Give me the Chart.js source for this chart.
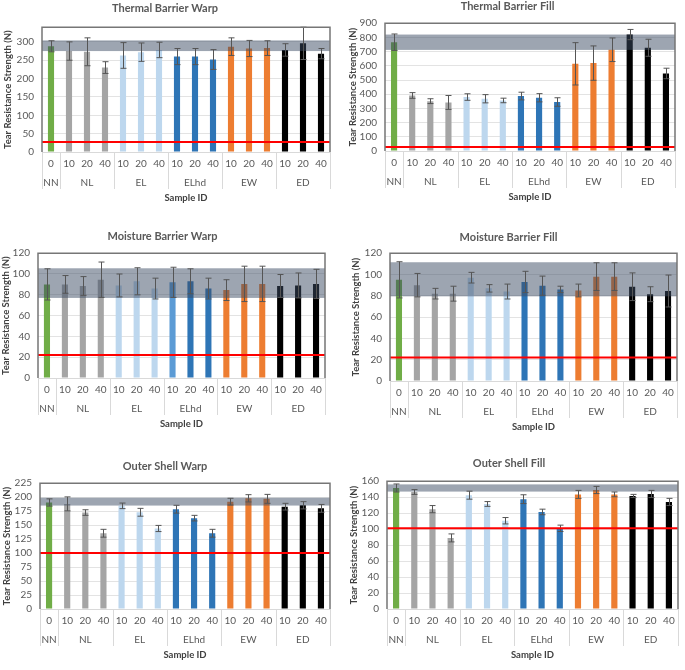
<!DOCTYPE html>
<html>
<head>
<meta charset="utf-8">
<script src="https://cdn.jsdelivr.net/npm/chart.js@4.4.1/dist/chart.umd.min.js"></script>
<style>
    body { margin: 0; background: #fff; }
    #page { position: relative; width: 685px; height: 670px; }
    .panel { position: absolute; }
</style>
</head>
<body>
<div id="page">
    <div class="panel" style="left:0;top:0"><canvas id="tbWarp" width="340" height="210"></canvas></div>
    <div class="panel" style="left:340px;top:0"><canvas id="tbFill" width="345" height="210"></canvas></div>
    <div class="panel" style="left:0;top:225px"><canvas id="mbWarp" width="340" height="215"></canvas></div>
    <div class="panel" style="left:340px;top:225px"><canvas id="mbFill" width="345" height="215"></canvas></div>
    <div class="panel" style="left:0;top:450px"><canvas id="osWarp" width="340" height="220"></canvas></div>
    <div class="panel" style="left:340px;top:450px"><canvas id="osFill" width="345" height="220"></canvas></div>
</div>
<script>
// Sample IDs: concentration under each treatment group
const categories = ['0', '10', '20', '40', '10', '20', '40', '10', '20', '40', '10', '20', '40', '10', '20', '40'];
const groups = ['NN', 'NL', 'EL', 'ELhd', 'EW', 'ED'];
const groupSizes = [1, 3, 3, 3, 3, 3];

// Thermal barrier warp
const tbWarpValues = [288, 275, 273, 230, 263, 272, 278, 260, 260, 252, 287, 282, 283, 278, 296, 268];
const tbWarpErrors = [15, 25, 38, 16, 35, 25, 21, 22, 22, 27, 24, 22, 20, 17, 44, 14];
const tbWarpBand = [275, 304];
const tbWarpMin = 27;

// Thermal barrier fill
const tbFillValues = [766, 391, 351, 342, 380, 368, 356, 387, 375, 345, 614, 619, 713, 820, 727, 546];
const tbFillErrors = [58, 20, 17, 49, 23, 29, 16, 27, 29, 30, 149, 121, 83, 36, 60, 37];
const tbFillBand = [712, 820];
const tbFillMin = 28;

// Moisture barrier warp
const mbWarpValues = [90, 90, 88.5, 94.5, 89, 93, 86, 92, 93, 86, 84.5, 90.5, 90.5, 88.5, 89, 90.5];
const mbWarpErrors = [15, 8.5, 9, 17, 11, 13, 10, 14.5, 12, 10, 10, 17, 17, 11, 12, 14];
const mbWarpBand = [77, 105.5];
const mbWarpMin = 22;

// Moisture barrier fill
const mbFillValues = [95, 90, 82, 82, 97, 87, 84, 93, 89.5, 86, 85, 98, 98, 88.5, 81.5, 84.5];
const mbFillErrors = [17, 11, 5, 7, 5, 3.5, 7, 10, 9, 3, 6, 13, 13, 13, 7, 15];
const mbFillBand = [79.5, 111.5];
const mbFillMin = 22;

// Outer shell warp
const osWarpValues = [190.5, 188, 172.5, 135.5, 184.5, 173, 144, 178.5, 162.5, 135.5, 192, 198, 197, 183, 185.5, 180];
const osWarpErrors = [6.5, 12.5, 5, 7, 5, 7, 5.5, 7, 5, 7, 6, 6.5, 8, 6, 6.5, 7];
const osWarpBand = [185, 199];
const osWarpMin = 100;

// Outer shell fill
const osFillValues = [151.5, 146.5, 125, 89, 142.5, 131.5, 110.5, 137.5, 121.5, 101, 143.5, 149, 143.5, 141.5, 144, 134];
const osFillErrors = [5, 3, 4.5, 5, 5, 3, 4, 5.5, 3.5, 4, 5, 4.5, 3, 2, 4.5, 4.5];
const osFillBand = [147, 156];
const osFillMin = 101;

const groupColors = {
    NN: '#70ad47',
    NL: '#a5a5a5',
    EL: '#bdd7ee',
    ELhd: '#2e75b6',
    EW: '#ed7d31',
    ED: '#000000'
};

const textColor = '#595959';
const fontFamily = 'Lato, "Open Sans", sans-serif';

// one colour per bar, plus a group label centred under each group
function buildBarColors() {
    const colors = [];
    groups.forEach((g, i) => {
        for (let k = 0; k < groupSizes[i]; k++) colors.push(groupColors[g]);
    });
    return colors;
}

function buildGroupLabels() {
    const labels = [];
    groups.forEach((g, i) => {
        const mid = Math.floor(groupSizes[i] / 2);
        for (let k = 0; k < groupSizes[i]; k++) labels.push(k === mid ? g : '');
    });
    return labels;
}

// band, error bars, requirement line, frame and group separators
const overlayPlugin = {
    id: 'overlay',
    afterDatasetsDraw(chart, args, opts) {
        const { ctx, chartArea: a, scales: { x, y } } = chart;
        ctx.save();

        // reference band (drawn over the bars)
        const bandTop = y.getPixelForValue(opts.band[1]);
        const bandBottom = y.getPixelForValue(opts.band[0]);
        ctx.fillStyle = 'rgba(60, 75, 100, 0.5)';
        ctx.fillRect(a.left, bandTop, a.right - a.left, bandBottom - bandTop);

        // error bars
        ctx.strokeStyle = '#555555';
        ctx.lineWidth = 1;
        opts.values.forEach((v, i) => {
            const px = Math.round(x.getPixelForValue(i)) + 0.5;
            const top = y.getPixelForValue(v + opts.errors[i]);
            const bottom = y.getPixelForValue(v - opts.errors[i]);
            ctx.beginPath();
            ctx.moveTo(px, top);
            ctx.lineTo(px, bottom);
            ctx.moveTo(px - 3, top);
            ctx.lineTo(px + 3, top);
            ctx.moveTo(px - 3, bottom);
            ctx.lineTo(px + 3, bottom);
            ctx.stroke();
        });

        // minimum requirement line
        const redY = y.getPixelForValue(opts.minLine);
        ctx.strokeStyle = '#ff0000';
        ctx.lineWidth = 2;
        ctx.beginPath();
        ctx.moveTo(a.left, redY);
        ctx.lineTo(a.right, redY);
        ctx.stroke();

        // plot frame
        ctx.strokeStyle = '#d9d9d9';
        ctx.lineWidth = 1;
        ctx.beginPath();
        ctx.moveTo(a.left, a.bottom + 0.5);
        ctx.lineTo(a.right, a.bottom + 0.5);
        ctx.stroke();
        ctx.strokeStyle = '#767676';
        ctx.lineWidth = 1.5;
        ctx.beginPath();
        ctx.moveTo(a.left, a.bottom);
        ctx.lineTo(a.left, a.top);
        ctx.lineTo(a.right, a.top);
        ctx.lineTo(a.right, a.bottom);
        ctx.stroke();

        // separators between sample groups
        ctx.strokeStyle = '#d9d9d9';
        ctx.lineWidth = 1;
        let idx = 0;
        const edges = [a.left];
        groupSizes.forEach((n, i) => {
            idx += n;
            if (i < groupSizes.length - 1) {
                edges.push((x.getPixelForValue(idx - 1) + x.getPixelForValue(idx)) / 2);
            }
        });
        edges.push(a.right);
        edges.forEach(ex => {
            const px = Math.round(ex) + 0.5;
            ctx.beginPath();
            ctx.moveTo(px, a.bottom);
            ctx.lineTo(px, a.bottom + 37);
            ctx.stroke();
        });

        ctx.restore();
    }
};

function makeChart(id, cfg) {
    const ctx = document.getElementById(id).getContext('2d');
    const canvasHeight = ctx.canvas.height;
    new Chart(ctx, {
        type: 'bar',
        data: {
            labels: categories,
            datasets: [{
                data: cfg.values,
                backgroundColor: cfg.colors || buildBarColors(),
                barPercentage: 0.34,
                categoryPercentage: 1.0,
                xAxisID: 'x',
                yAxisID: 'y'
            }]
        },
        options: {
            responsive: false,
            animation: false,
            layout: {
                padding: {
                    left: 0,
                    right: cfg.padRight,
                    top: 0,
                    bottom: canvasHeight - cfg.areaBottom - 52
                }
            },
            plugins: {
                legend: { display: false },
                tooltip: { enabled: false },
                title: {
                    display: true,
                    text: cfg.title,
                    color: textColor,
                    font: { family: fontFamily, size: 11, weight: 'bold' },
                    padding: { top: cfg.titleY - 7, bottom: cfg.areaTop - cfg.titleY - 6 }
                },
                overlay: {
                    values: cfg.values,
                    errors: cfg.errors,
                    band: cfg.band,
                    minLine: cfg.minLine
                }
            },
            scales: {
                x: {
                    type: 'category',
                    position: 'bottom',
                    grid: { display: false, drawTicks: false },
                    border: { display: false },
                    ticks: {
                        color: textColor,
                        font: { family: fontFamily, size: 10 },
                        padding: 6,
                        maxRotation: 0,
                        autoSkip: false
                    },
                    afterFit(scale) { scale.height = 20; }
                },
                x2: {
                    type: 'category',
                    position: 'bottom',
                    labels: buildGroupLabels(),
                    offset: true,
                    grid: { display: false, drawTicks: false },
                    border: { display: false },
                    ticks: {
                        color: textColor,
                        font: { family: fontFamily, size: 10 },
                        padding: 5,
                        maxRotation: 0,
                        autoSkip: false
                    },
                    title: {
                        display: true,
                        text: 'Sample ID',
                        color: '#404040',
                        font: { family: fontFamily, size: 9.5, weight: 'bold' },
                        padding: { top: 0, bottom: 0 }
                    },
                    afterFit(scale) { scale.height = 32; }
                },
                y: {
                    min: 0,
                    max: cfg.max,
                    grid: { color: '#e3e3e3', drawTicks: false },
                    border: { display: false },
                    ticks: {
                        stepSize: cfg.step,
                        autoSkip: false,
                        includeBounds: cfg.includeBounds !== false,
                        color: textColor,
                        font: { family: fontFamily, size: 10 },
                        padding: 8
                    },
                    title: {
                        display: true,
                        text: 'Tear Resistance Strength (N)',
                        color: '#404040',
                        font: { family: fontFamily, size: 9.5, weight: 'bold' },
                        padding: { top: cfg.yTitleX - 6, bottom: 0 }
                    },
                    afterFit(scale) { scale.width = cfg.areaLeft; }
                }
            }
        },
        plugins: [overlayPlugin]
    });
}

document.addEventListener('DOMContentLoaded', function() {
    makeChart('tbWarp', {
        title: 'Thermal Barrier Warp', values: tbWarpValues, errors: tbWarpErrors,
        band: tbWarpBand, minLine: tbWarpMin, max: 340, step: 50, includeBounds: false,
        areaLeft: 42, padRight: 10, areaTop: 27, areaBottom: 152, titleY: 9, yTitleX: 8
    });
    makeChart('tbFill', {
        title: 'Thermal Barrier Fill', values: tbFillValues, errors: tbFillErrors,
        band: tbFillBand, minLine: tbFillMin, max: 900, step: 100,
        areaLeft: 45, padRight: 10, areaTop: 23, areaBottom: 151, titleY: 7, yTitleX: 13
    });

    // in this panel the ELhd 10 bar is a lighter blue
    const mbWarpColors = buildBarColors();
    mbWarpColors[7] = '#5b9bd5';
    makeChart('mbWarp', {
        title: 'Moisture Barrier Warp', values: mbWarpValues, errors: mbWarpErrors, colors: mbWarpColors,
        band: mbWarpBand, minLine: mbWarpMin, max: 120, step: 20,
        areaLeft: 38, padRight: 15, areaTop: 28, areaBottom: 153, titleY: 12, yTitleX: 6
    });
    makeChart('mbFill', {
        title: 'Moisture Barrier Fill', values: mbFillValues, errors: mbFillErrors,
        band: mbFillBand, minLine: mbFillMin, max: 120, step: 20,
        areaLeft: 50, padRight: 8, areaTop: 28, areaBottom: 156, titleY: 13, yTitleX: 16
    });
    makeChart('osWarp', {
        title: 'Outer Shell Warp', values: osWarpValues, errors: osWarpErrors,
        band: osWarpBand, minLine: osWarpMin, max: 225, step: 25,
        areaLeft: 40, padRight: 10, areaTop: 33, areaBottom: 159, titleY: 17, yTitleX: 7
    });
    makeChart('osFill', {
        title: 'Outer Shell Fill', values: osFillValues, errors: osFillErrors,
        band: osFillBand, minLine: osFillMin, max: 160, step: 20,
        areaLeft: 47, padRight: 7, areaTop: 31, areaBottom: 159, titleY: 14, yTitleX: 14
    });
});
</script>
</body>
</html>
